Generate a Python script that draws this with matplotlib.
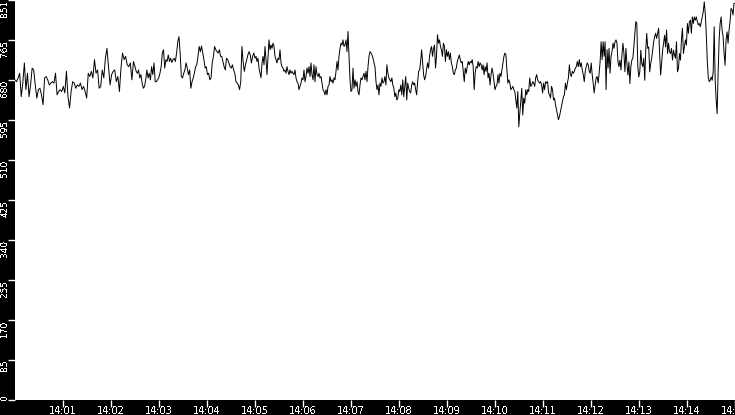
import numpy as np
import matplotlib
matplotlib.use("Agg")
import matplotlib.pyplot as plt

plt.rcParams['text.antialiased'] = False

# readings, one list per 2.5 minute block (14:00:00 - 14:15:00)
block_1 = [681, 677, 685, 695, 645, 674, 717, 660, 695, 645, 670, 706, 702, 670, 642, 660,
           663, 649, 628, 685, 688, 681, 670, 674, 677, 674, 695, 649, 656, 660, 656, 667,
           653, 699, 645, 621, 656, 677, 674, 663, 670, 667, 674, 660, 667, 656, 642, 695,
           688, 699, 685, 724, 695, 702, 663, 667, 702, 685, 727, 748, 709, 670, 692, 699,
           702, 677, 688, 656, 706, 738, 724, 731, 713, 709, 717, 681, 720]
block_2 = [709, 699, 695, 702, 685, 692, 674, 663, 667, 681, 702, 685, 695, 681, 709, 692,
           717, 677, 677, 681, 685, 695, 709, 738, 745, 706, 724, 720, 734, 720, 727, 718,
           724, 727, 720, 738, 762, 773, 738, 688, 685, 695, 702, 717, 706, 692, 702, 663,
           677, 685, 695, 709, 713, 731, 752, 741, 753, 738, 724, 706, 709, 692, 695, 681,
           685, 717, 731, 752, 745, 741, 738, 745, 731, 731, 720, 709, 702, 727, 724, 717,
           709, 706, 713, 702, 695, 677, 674, 670, 660, 677, 752, 720, 699, 713, 724, 734,
           741, 734, 717, 731, 738]
block_3 = [727, 731, 720, 727, 706, 695, 685, 717, 731, 713, 752, 724, 692, 731, 766, 745,
           755, 748, 759, 752, 731, 724, 717, 727, 724, 745, 717, 709, 706, 699, 702, 695,
           709, 699, 692, 702, 695, 699, 695, 692, 702, 685, 677, 674, 660, 667, 674, 685,
           681, 702, 677, 688, 706, 695, 709, 688, 717, 692, 681, 713, 677, 709, 692, 688,
           695, 685, 688, 674, 660, 656, 649, 660, 649, 667, 670, 688, 677, 681, 674, 685,
           681, 699, 720, 702, 731, 748, 759, 755, 766, 752, 755, 766, 741, 784, 731, 681,
           656, 660, 706, 663, 681, 667, 677, 656, 649, 670, 685, 681, 688, 695, 681, 699,
           677, 709, 731, 741, 738, 734, 727, 717]
block_4 = [709, 677, 660, 670, 649, 674, 667, 685, 674, 677, 688, 670, 713, 695, 685, 681,
           677, 685, 670, 663, 645, 653, 638, 642, 660, 656, 670, 649, 681, 645, 667, 688,
           638, 674, 663, 656, 653, 670, 677, 670, 674, 660, 649, 677, 699, 702, 720, 745,
           717, 692, 681, 688, 702, 717, 706, 731, 745, 752, 731, 748, 755, 706, 731, 777,
           759, 766, 752, 745, 731, 759, 752, 720, 745, 731, 741, 724, 738, 717, 709, 695,
           692, 702, 706, 720, 727, 734, 724, 717, 720, 699, 677, 706, 695, 709, 720, 713,
           720, 717, 724, 709, 660, 695, 709, 706, 720, 709, 717, 713, 702, 713, 692, 709,
           699, 717, 685, 695, 670, 692, 706, 695, 677]
block_5 = [660, 667, 670, 692, 674, 695, 688, 702, 717, 731, 738, 734, 702, 674, 681, 674,
           660, 663, 667, 660, 656, 638, 621, 656, 581, 610, 635, 663, 606, 642, 631, 660,
           649, 660, 656, 685, 667, 670, 677, 674, 667, 685, 692, 681, 677, 674, 677, 670,
           653, 674, 660, 677, 674, 677, 653, 649, 642, 667, 660, 638, 642, 628, 617, 606,
           596, 603, 613, 624, 635, 645, 649, 674, 660, 674, 685, 713, 692, 688, 699, 695,
           699, 706, 709, 720, 709, 724, 709, 717, 702, 692, 677, 699, 709, 717, 713, 699,
           695, 717, 692, 674, 653, 670, 685, 688, 674, 695, 720, 762, 724, 762, 731, 762,
           660, 745, 706, 748, 695, 731, 741, 759, 748]
block_6 = [762, 766, 759, 719, 709, 723, 702, 734, 759, 737, 698, 748, 716, 691, 719, 673,
           709, 723, 727, 751, 780, 805, 801, 709, 687, 698, 744, 716, 709, 727, 680, 744,
           780, 748, 751, 698, 716, 727, 744, 762, 773, 780, 769, 780, 791, 737, 691, 716,
           744, 759, 776, 751, 787, 737, 759, 741, 737, 748, 723, 744, 734, 727, 762, 698,
           705, 737, 723, 766, 791, 737, 751, 766, 755, 801, 780, 805, 808, 780, 815, 801,
           815, 808, 815, 805, 798, 801, 794, 805, 815, 826, 847, 823, 780, 723, 687, 677,
           680, 687, 680, 698, 794, 680, 638, 609, 698, 766, 801, 815, 787, 773, 737, 712,
           766, 783, 759, 787, 805, 833, 830, 819, 844]
blocks = [block_1, block_2, block_3, block_4, block_5, block_6]

y_max = 851
time_labels = ['14:01', '14:02', '14:03', '14:04', '14:05', '14:06', '14:07', '14:08',
               '14:09', '14:10', '14:11', '14:12', '14:13', '14:14', '14:15']

# minutes after 14:00 for every reading
block_len = 15.0 / len(blocks)
t = np.concatenate([i * block_len + np.linspace(0, block_len, len(b), endpoint=False)
                    for i, b in enumerate(blocks)])
t = np.append(t, 15.0)
v = np.concatenate([np.array(b, dtype=float) for b in blocks])
v = np.append(v, blocks[-1][-1])

fig = plt.figure(figsize=(7.35, 4.15), dpi=100, facecolor='black')
ax = fig.add_axes([15 / 735, 15.5 / 415, 720 / 735, 399.5 / 415])
ax.set_facecolor('white')
ax.plot(t, v, color='black', lw=0.7)

ax.set_xlim(0, 15)
ax.set_ylim(0, y_max)
for s in ax.spines.values():
    s.set_visible(False)

ax.set_xticks(np.arange(1, 16))
ax.set_xticklabels(time_labels)
yt = np.linspace(0, y_max, 11)
ax.set_yticks(yt)
ax.set_yticklabels([str(int(x)) for x in yt], rotation=90, va='top')
ax.get_yticklabels()[0].set_va('bottom')

ax.tick_params(colors='white', length=5, width=1)
ax.tick_params(axis='x', labelsize=7, pad=0)
ax.tick_params(axis='y', labelsize=6.5, pad=-0.8)

fig.savefig('out.png', dpi=100, facecolor='black')
